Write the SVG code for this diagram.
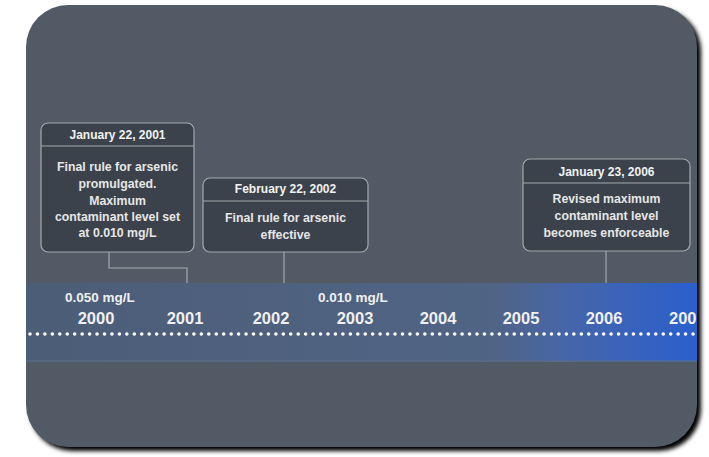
<svg xmlns="http://www.w3.org/2000/svg" width="709" height="457" viewBox="0 0 709 457">
<defs>
<style>
.box{fill:#3b424b;stroke:#a3a8ad;stroke-width:1.2}
.sep{stroke:#a3a8ad;stroke-width:1}
.hd{font-family:"Liberation Sans",Arial,sans-serif;font-weight:bold;font-size:12px;fill:#f2f2f2;text-anchor:middle}
.bd{font-family:"Liberation Sans",Arial,sans-serif;font-weight:bold;font-size:12.3px;fill:#e6e6e6;text-anchor:middle}
.yr{font-family:"Liberation Sans",Arial,sans-serif;font-weight:bold;font-size:16.5px;fill:#f0f0f0;text-anchor:middle}
.mg{font-family:"Liberation Sans",Arial,sans-serif;font-weight:bold;font-size:13.5px;fill:#f0f0f0}
.con{stroke:#a3a8ad;stroke-width:1.2;fill:none}
</style>
<linearGradient id="band" x1="0" y1="0" x2="1" y2="0">
<stop offset="0" stop-color="#4c5d77"/>
<stop offset="0.7" stop-color="#506485"/>
<stop offset="0.8" stop-color="#4766a8"/>
<stop offset="1" stop-color="#2a5fce"/>
</linearGradient>
<filter id="sh" x="-5%" y="-5%" width="115%" height="115%">
<feGaussianBlur stdDeviation="2"/>
</filter>
<clipPath id="pc"><rect x="26" y="5" width="671" height="442" rx="42" ry="42"/></clipPath>
</defs>
<rect width="709" height="457" fill="#ffffff"/>
<rect x="30" y="9" width="671" height="442" rx="42" ry="42" fill="#000" filter="url(#sh)"/>
<rect x="26" y="5" width="671" height="442" rx="42" ry="42" fill="#525b65"/>
<g clip-path="url(#pc)">
<rect x="26" y="283" width="671" height="79" fill="url(#band)"/>
<rect x="26" y="360" width="671" height="2" fill="#5d6c84" opacity="0.6"/>
<line x1="30" y1="334" x2="697" y2="334" stroke="#ffffff" stroke-width="3.6" stroke-linecap="round" stroke-dasharray="0 7.45"/>
<text class="mg" x="65" y="302">0.050 mg/L</text>
<text class="mg" x="318" y="302">0.010 mg/L</text>
<text class="yr" x="96" y="324">2000</text>
<text class="yr" x="185" y="324">2001</text>
<text class="yr" x="271" y="324">2002</text>
<text class="yr" x="355" y="324">2003</text>
<text class="yr" x="438" y="324">2004</text>
<text class="yr" x="521" y="324">2005</text>
<text class="yr" x="604" y="324">2006</text>
<text class="yr" x="669" y="324" style="text-anchor:start">200</text>
</g>
<g id="connectors">
<polyline class="con" points="109,252 109,268 187,268 187,283"/>
<line class="con" x1="284" y1="252" x2="284" y2="283"/>
<line class="con" x1="606" y1="251" x2="606" y2="283"/>
</g>
<g id="n2001">
<rect class="box" x="41" y="123" width="153" height="129" rx="7"/>
<line class="sep" x1="41" y1="146" x2="194" y2="146"/>
<text class="hd" x="117.5" y="139">January 22, 2001</text>
<text class="bd" x="117.5" y="171">Final rule for arsenic</text>
<text class="bd" x="117.5" y="188">promulgated.</text>
<text class="bd" x="117.5" y="205">Maximum</text>
<text class="bd" x="117.5" y="221">contaminant level set</text>
<text class="bd" x="117.5" y="237">at 0.010 mg/L</text>
</g>
<g id="n2002">
<rect class="box" x="203" y="178" width="165" height="74" rx="7"/>
<line class="sep" x1="203" y1="201" x2="368" y2="201"/>
<text class="hd" x="285.5" y="193">February 22, 2002</text>
<text class="bd" x="285.5" y="222">Final rule for arsenic</text>
<text class="bd" x="285.5" y="239">effective</text>
</g>
<g id="n2006">
<rect class="box" x="523" y="159" width="167" height="92" rx="7"/>
<line class="sep" x1="523" y1="183" x2="690" y2="183"/>
<text class="hd" x="606.5" y="176">January 23, 2006</text>
<text class="bd" x="606.5" y="203">Revised maximum</text>
<text class="bd" x="606.5" y="220">contaminant level</text>
<text class="bd" x="606.5" y="237">becomes enforceable</text>
</g>
</svg>
